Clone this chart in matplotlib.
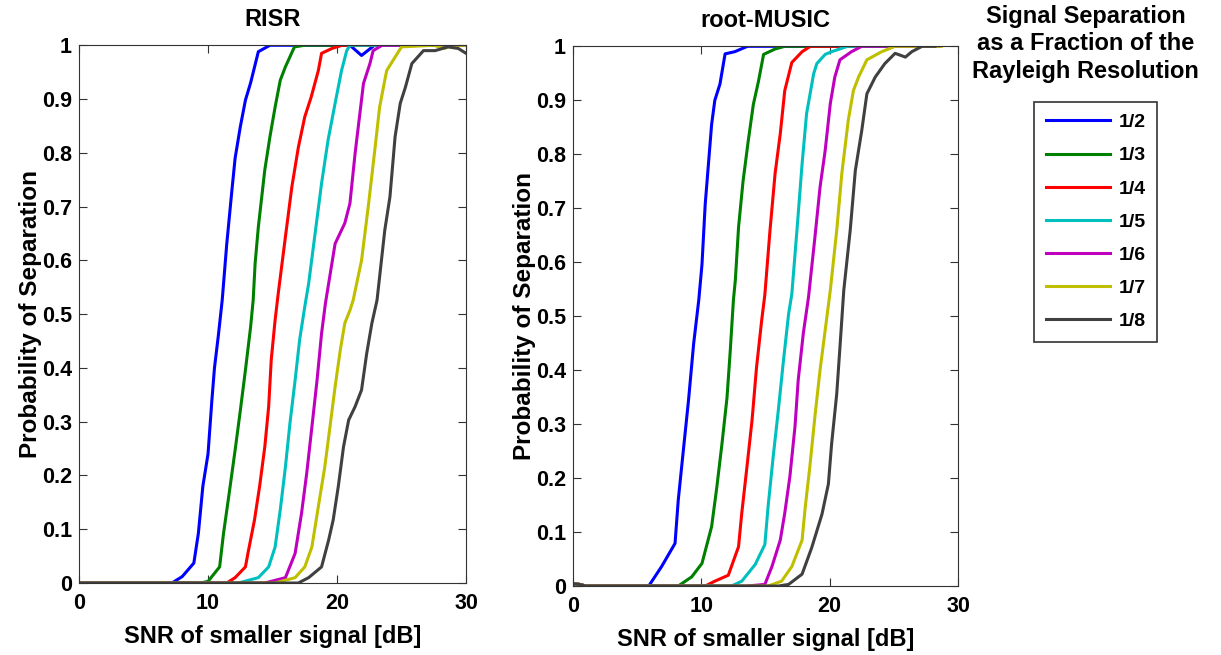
import numpy as np
import matplotlib.pyplot as plt

plt.rcParams['font.family'] = ['Liberation Sans', 'DejaVu Sans']
plt.rcParams['font.weight'] = 'bold'

labels = ["1/2", "1/3", "1/4", "1/5", "1/6", "1/7", "1/8"]
colors = [(0, 0, 1), (0, 0.5, 0), (1, 0, 0), (0, 0.75, 0.75),
          (0.75, 0, 0.75), (0.75, 0.75, 0), (0.25, 0.25, 0.25)]

# RISR curves (SNR dB, probability)
risr_x = [
    [0, 7.2, 8.0, 8.9, 9.25, 9.6, 10.0, 10.3, 10.5, 10.8, 11.1, 11.45, 11.85, 12.1, 12.5, 12.9, 13.3, 13.9, 14.8, 21.0, 21.9, 22.9, 30],
    [0, 9.4, 10.0, 10.9, 11.2, 11.6, 12.1, 12.5, 12.9, 13.3, 13.5, 13.65, 13.9, 14.4, 14.8, 15.2, 15.6, 16.0, 16.7, 17.5, 30],
    [0, 11.45, 12.1, 12.9, 13.1, 13.6, 14.0, 14.4, 14.7, 14.9, 15.2, 15.45, 16.0, 16.5, 17.0, 17.5, 18.0, 18.55, 18.8, 19.6, 20.4, 30],
    [0, 12.35, 13.9, 14.7, 15.2, 15.6, 16.0, 16.35, 16.75, 17.1, 17.5, 17.8, 18.3, 18.8, 19.3, 19.85, 20.35, 20.75, 21.0, 30],
    [0, 14.4, 16.0, 16.75, 17.25, 17.65, 18.05, 18.45, 18.8, 19.1, 19.35, 19.85, 20.6, 21.0, 21.4, 21.8, 22.05, 22.55, 22.8, 23.5, 30],
    [0, 15.2, 16.75, 17.5, 18.05, 18.55, 19.05, 19.45, 19.85, 20.25, 20.6, 21.0, 21.25, 21.9, 22.45, 22.95, 23.3, 23.7, 23.85, 24.5, 25.0, 27.5, 28.3, 29.0, 30],
    [0, 17.0, 17.8, 18.8, 19.35, 19.7, 20.1, 20.5, 20.9, 21.4, 21.9, 22.3, 22.7, 23.1, 23.7, 24.1, 24.5, 24.9, 25.3, 25.8, 26.7, 27.6, 28.6, 29.4, 30],
]
risr_p = [
    [0, 0, 0.012, 0.037, 0.092, 0.18, 0.24, 0.34, 0.40, 0.46, 0.526, 0.63, 0.73, 0.79, 0.848, 0.898, 0.93, 0.988, 1.0, 1.0, 0.981, 1.0, 1.0],
    [0, 0, 0.003, 0.03, 0.092, 0.16, 0.247, 0.32, 0.396, 0.476, 0.526, 0.594, 0.662, 0.768, 0.83, 0.885, 0.935, 0.96, 0.997, 1.0, 1.0],
    [0, 0, 0.01, 0.03, 0.056, 0.117, 0.18, 0.253, 0.328, 0.415, 0.489, 0.54, 0.644, 0.737, 0.81, 0.867, 0.904, 0.953, 0.985, 0.994, 1.0, 1.0],
    [0, 0, 0.01, 0.03, 0.067, 0.136, 0.216, 0.297, 0.377, 0.452, 0.514, 0.557, 0.65, 0.743, 0.823, 0.892, 0.953, 0.99, 1.0, 1.0],
    [0, 0, 0.01, 0.055, 0.13, 0.204, 0.29, 0.377, 0.464, 0.52, 0.557, 0.631, 0.669, 0.706, 0.799, 0.879, 0.929, 0.966, 0.99, 1.0, 1.0],
    [0, 0, 0.01, 0.03, 0.067, 0.142, 0.216, 0.29, 0.365, 0.433, 0.483, 0.507, 0.526, 0.6, 0.706, 0.81, 0.885, 0.935, 0.953, 0.978, 0.997, 1.0, 0.994, 1.0, 1.0],
    [0, 0, 0.01, 0.03, 0.08, 0.117, 0.18, 0.253, 0.303, 0.328, 0.359, 0.427, 0.483, 0.526, 0.656, 0.718, 0.83, 0.892, 0.922, 0.966, 0.99, 0.99, 0.997, 0.994, 0.985],
]

# root-MUSIC curves
music_x = [
    [0, 0.5, 1, 5.9, 6.9, 7.95, 8.2, 8.6, 9.0, 9.4, 9.8, 10.05, 10.3, 10.55, 10.8, 11.05, 11.45, 11.85, 12.6, 13.6, 28.5],
    [0, 0.5, 1, 8.2, 9.25, 10.05, 10.8, 11.2, 11.6, 12.0, 12.25, 12.5, 12.65, 12.9, 13.25, 13.65, 14.05, 14.45, 14.85, 15.75, 16.5, 28.5],
    [0, 0.5, 1, 10.3, 11.05, 12.1, 12.9, 13.15, 13.55, 13.95, 14.3, 14.7, 14.95, 15.35, 15.75, 16.15, 16.5, 17.05, 17.85, 18.5, 28.5],
    [0, 0.5, 1, 12.35, 13.15, 14.2, 14.95, 15.2, 15.6, 16.0, 16.4, 16.8, 17.05, 17.45, 17.85, 18.2, 18.75, 19.0, 19.65, 20.15, 21.4, 28.5],
    [0, 0.5, 1, 13.55, 14.95, 15.5, 16.15, 16.5, 16.9, 17.3, 17.55, 17.95, 18.35, 18.85, 19.25, 19.65, 20.05, 20.4, 20.8, 21.7, 22.5, 28.5],
    [0, 0.5, 1, 15.2, 16.25, 17.05, 17.85, 18.1, 18.45, 18.85, 19.25, 19.65, 20.05, 20.55, 20.95, 21.45, 21.85, 22.25, 22.9, 24.05, 25.1, 28.7],
    [0, 0.5, 1, 16.0, 16.8, 17.85, 18.6, 19.4, 19.9, 20.15, 20.55, 20.8, 21.1, 21.6, 22.0, 22.5, 22.9, 23.55, 24.3, 25.1, 25.9, 26.4, 27.2, 28.2],
]
music_p = [
    [0.004, 0.003, 0, 0, 0.036, 0.079, 0.159, 0.252, 0.344, 0.449, 0.53, 0.596, 0.707, 0.781, 0.855, 0.9, 0.93, 0.986, 0.99, 1.0, 1.0],
    [0.004, 0.003, 0, 0, 0.017, 0.042, 0.11, 0.182, 0.262, 0.349, 0.435, 0.53, 0.567, 0.665, 0.75, 0.824, 0.892, 0.935, 0.985, 0.995, 1.0, 1.0],
    [0.004, 0.003, 0, 0, 0.009, 0.02, 0.073, 0.135, 0.22, 0.307, 0.405, 0.492, 0.54, 0.659, 0.765, 0.838, 0.918, 0.97, 0.99, 1.0, 1.0],
    [0.004, 0.003, 0, 0, 0.009, 0.04, 0.077, 0.147, 0.24, 0.326, 0.418, 0.504, 0.541, 0.659, 0.782, 0.875, 0.949, 0.968, 0.985, 0.99, 1.0, 1.0],
    [0.004, 0.003, 0, 0, 0.003, 0.036, 0.085, 0.135, 0.203, 0.296, 0.382, 0.469, 0.535, 0.646, 0.739, 0.807, 0.894, 0.943, 0.975, 0.99, 1.0, 1.0],
    [0.004, 0.003, 0, 0, 0.009, 0.036, 0.085, 0.147, 0.22, 0.314, 0.4, 0.474, 0.548, 0.659, 0.765, 0.863, 0.918, 0.943, 0.975, 0.99, 1.0, 1.0],
    [0.004, 0.003, 0, 0, 0.003, 0.022, 0.071, 0.133, 0.189, 0.263, 0.356, 0.442, 0.548, 0.659, 0.77, 0.844, 0.912, 0.943, 0.968, 0.987, 0.98, 0.99, 1.0, 1.0],
]

fig = plt.figure(figsize=(12.21, 6.55), dpi=100)
ax1 = fig.add_axes([0.0647, 0.1099, 0.317, 0.821])
ax2 = fig.add_axes([0.4693, 0.1053, 0.3153, 0.824])

for ax, xs, ps, title in [(ax1, risr_x, risr_p, "RISR"), (ax2, music_x, music_p, "root-MUSIC")]:
    for x, p, c, lab in zip(xs, ps, colors, labels):
        ax.plot(x, p, color=c, lw=2.2, label=lab)
    ax.set_xlim(0, 30)
    ax.set_ylim(0, 1)
    ax.set_xticks([0, 10, 20, 30])
    ax.set_yticks(np.arange(0, 1.01, 0.1))
    ax.set_yticklabels(["0", "0.1", "0.2", "0.3", "0.4", "0.5", "0.6", "0.7", "0.8", "0.9", "1"])
    ax.tick_params(direction='in', top=True, right=True, length=6, labelsize=15.5, color='#333333')
    ax.tick_params(axis='x', pad=7)
    ax.tick_params(axis='y', pad=5)
    for s in ax.spines.values():
        s.set_color('#333333')
    ax.set_title(title, fontsize=17, fontweight='bold', pad=14)
    ax.set_xlabel("SNR of smaller signal [dB]", fontsize=17, fontweight='bold', labelpad=8)
    ax.set_ylabel("Probability of Separation", fontsize=17.5, fontweight='bold', labelpad=0)

handles, labs = ax1.get_legend_handles_labels()
fig.text(0.889, 0.993, "Signal Separation\nas a Fraction of the\nRayleigh Resolution",
         ha='center', va='top', fontsize=17, fontweight='bold', linespacing=1.27)
leg = fig.legend(handles, labs, loc='upper left', bbox_to_anchor=(1034 / 1221, 1 - 102 / 655),
                 borderaxespad=0, fontsize=14, frameon=True, fancybox=False, edgecolor='black',
                 handlelength=3.3, handletextpad=0.45, labelspacing=0.8, borderpad=0.6)
leg.get_frame().set_linewidth(1.2)
for t in leg.get_texts():
    t.set_fontweight('bold')

fig.savefig("out.png", dpi=100)
